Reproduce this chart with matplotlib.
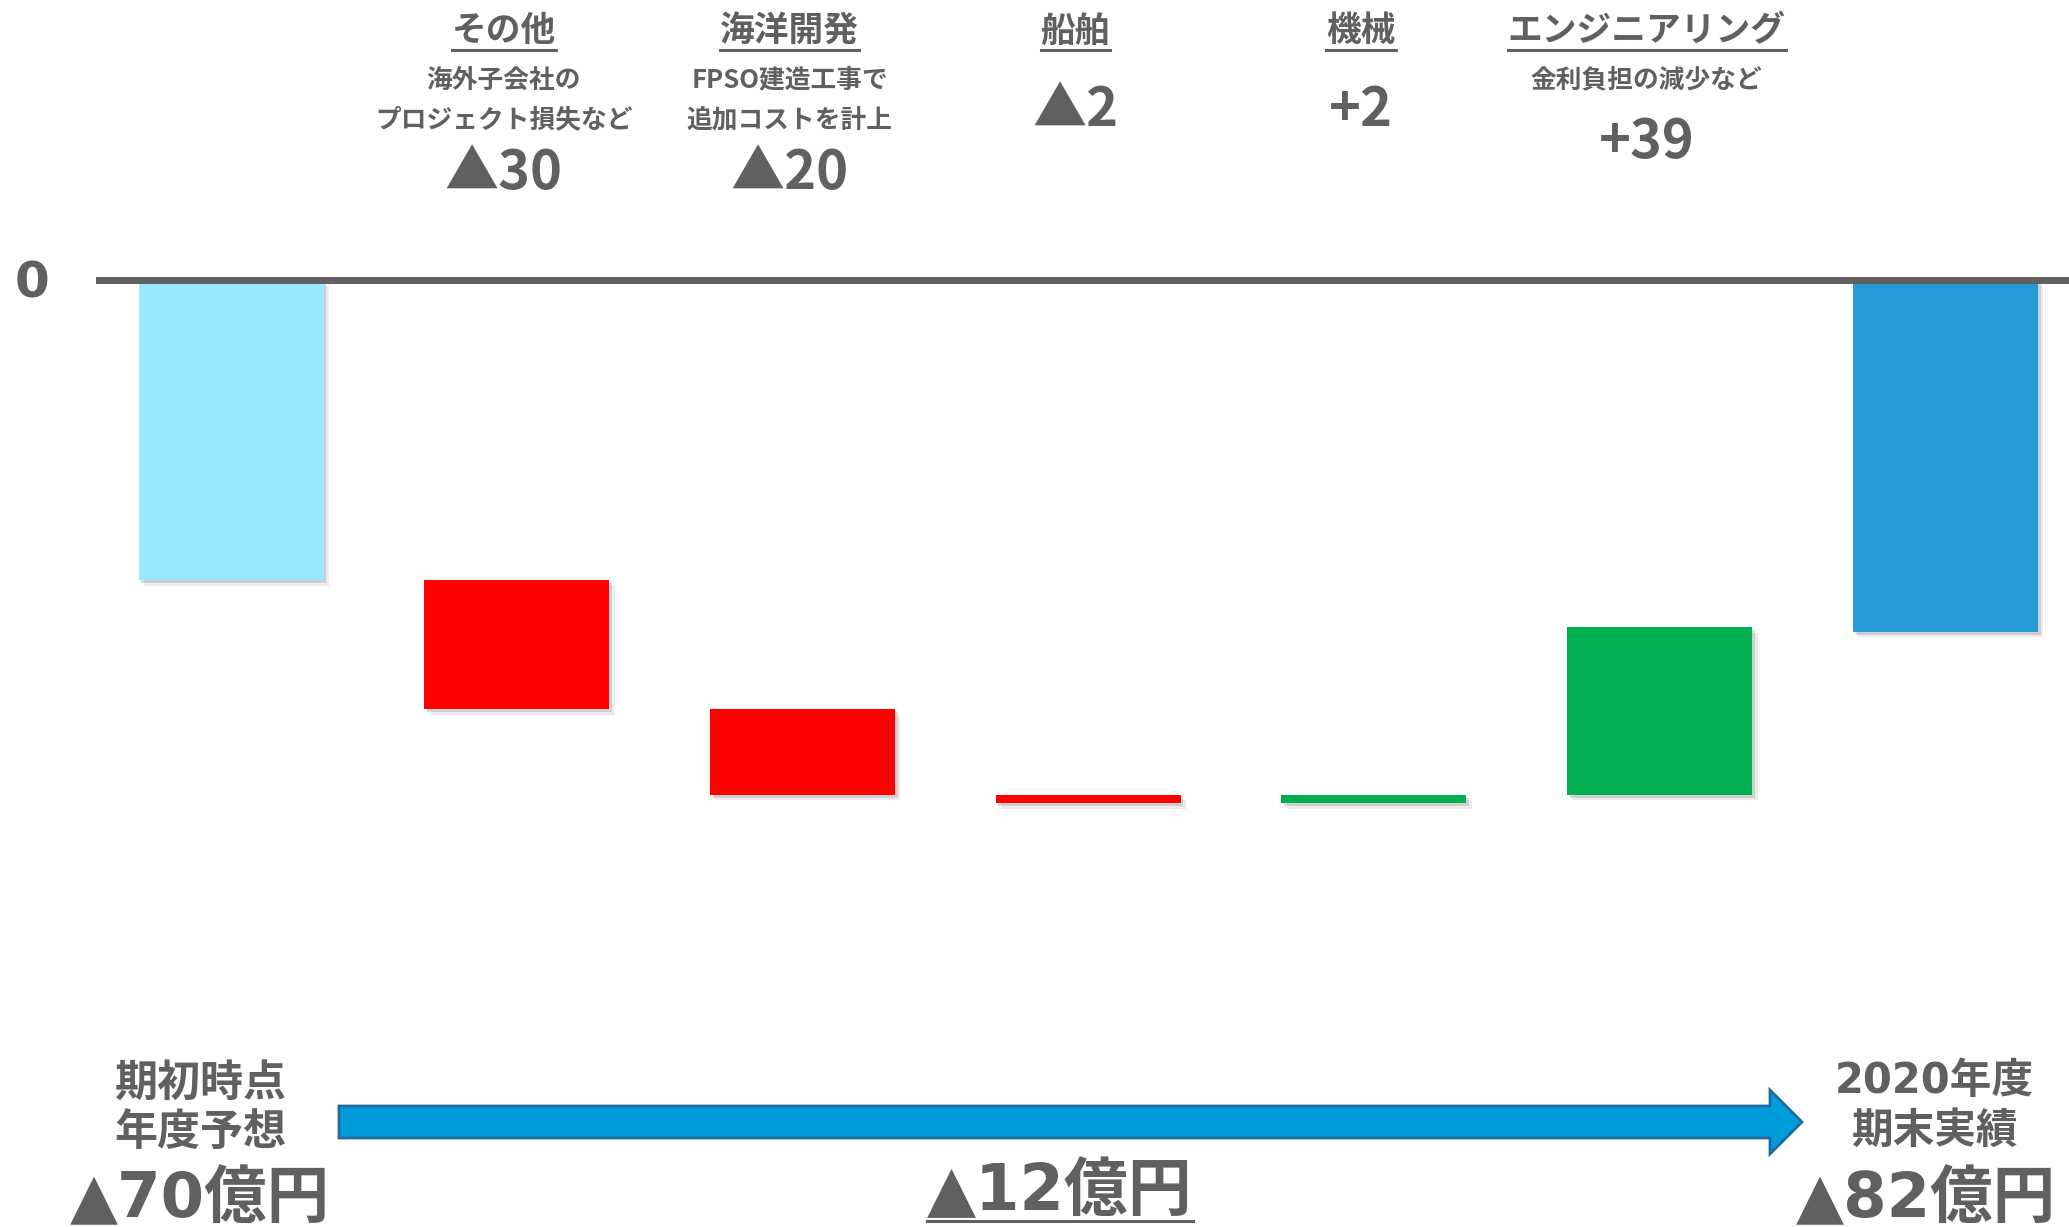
import matplotlib
matplotlib.use("Agg")
import matplotlib.pyplot as plt
import matplotlib.patheffects as pe
from matplotlib import transforms
from matplotlib.patches import Polygon
from matplotlib.lines import Line2D

plt.rcParams['font.family'] = ['Noto Sans CJK JP', 'DejaVu Sans']

# 億円
start_value = -70
end_value = -82
segments = ['その他', '海洋開発', '船舶', '機械', 'エンジニアリング']
changes = [-30, -20, -2, 2, 39]
notes = [['海外子会社の', 'プロジェクト損失など'],
         ['FPSO建造工事で', '追加コストを計上'],
         [], [],
         ['金利負担の減少など']]
start_label = ['期初時点', '年度予想']
end_label = ['2020年度', '期末実績']

GRAY = '#606060'
W, H = 2069, 1227


def fmt(v, unit=''):
    return ('▲' if v < 0 else '+') + str(abs(v)) + unit


fig = plt.figure(figsize=(W / 100, H / 100), dpi=100)
ax = fig.add_axes([0, 0, 1, 1])
ax.set_xlim(-0.8085, 6.433)
ax.set_ylim(-220.75, 65.27)
ax.axis('off')

# pixel positions counted from the top-left corner of the figure
pix = transforms.Affine2D().scale(1 / W, -1 / H).translate(0, 1) + fig.transFigure
xdata_ypix = transforms.blended_transform_factory(ax.transData, pix)

shadow = [pe.SimplePatchShadow(offset=(2, -2), shadow_rgbFace='#8a8a8a', alpha=0.3),
          pe.SimplePatchShadow(offset=(4, -4), shadow_rgbFace='#a0a0a0', alpha=0.2),
          pe.Normal()]
width = 0.6475

# opening / closing totals
ax.bar(0, start_value, width=width, color='#97E9FD', path_effects=shadow, zorder=2)
ax.bar(len(changes) + 1, end_value, width=width, color='#2699D6', path_effects=shadow, zorder=2)

# floating steps
level = start_value
for i, d in enumerate(changes, start=1):
    color = '#FF0000' if d < 0 else '#00B050'
    ax.bar(i, d, bottom=level, width=width, color=color, path_effects=shadow, zorder=2)
    level += d

ax.axhline(0, xmin=99 / W, xmax=1, color=GRAY, lw=5, zorder=3)
ax.text(32, 284, '0', transform=pix, ha='center', va='center', fontsize=36,
        fontweight='bold', color=GRAY, family='DejaVu Sans')

# segment headings above the chart
underlined = []
for i, (name, note, d) in enumerate(zip(segments, notes, changes), start=1):
    x = i - 0.045
    t = ax.text(x, 31, name, transform=xdata_ypix, ha='center', va='center',
                fontsize=25, fontweight='bold', color=GRAY)
    underlined.append((t, 50))
    for k, line in enumerate(note):
        ax.text(x, 80 + 40 * k, line, transform=xdata_ypix, ha='center', va='center',
                fontsize=18.5, fontweight='bold', color=GRAY)
    ax.text(x, 111 + 31.5 * len(note), fmt(d), transform=xdata_ypix, ha='center',
            va='center', fontsize=39, fontweight='bold', color=GRAY)

# start / end captions
mixed = ['DejaVu Sans', 'Noto Sans CJK JP']
for k, line in enumerate(start_label):
    ax.text(200, 1083 + 49 * k, line, transform=pix, ha='center', va='center',
            fontsize=31, fontweight='bold', color=GRAY)
ax.text(200, 1200, fmt(start_value, '億円'), transform=pix, ha='center', va='center',
        fontsize=45, fontweight='bold', color=GRAY, family=mixed)

for k, line in enumerate(end_label):
    ax.text(1934, 1081 + 50 * k, line, transform=pix, ha='center', va='center',
            fontsize=30, fontweight='bold', color=GRAY, family=mixed)
ax.text(1926, 1200, fmt(end_value, '億円'), transform=pix, ha='center', va='center',
        fontsize=45, fontweight='bold', color=GRAY, family=mixed)

# overall change arrow
arrow = Polygon([(339, 1106), (1770, 1106), (1770, 1090), (1802, 1122), (1770, 1154),
                 (1770, 1138), (339, 1138)], closed=True, transform=pix,
                facecolor='#009CDB', edgecolor='#1D6C9C', lw=2, zorder=4)
ax.add_patch(arrow)
t = ax.text(1060, 1192, fmt(end_value - start_value, '億円'), transform=pix, ha='center',
            va='center', fontsize=46, fontweight='bold', color=GRAY, family=mixed)
underlined.append((t, 1221))

fig.canvas.draw()
renderer = fig.canvas.get_renderer()
for t, y in underlined:
    bb = t.get_window_extent(renderer)
    fig.add_artist(Line2D([bb.x0 / W, bb.x1 / W], [1 - y / H, 1 - y / H],
                          transform=fig.transFigure, color=GRAY, lw=2.2))

fig.savefig('out.png', dpi=100)
